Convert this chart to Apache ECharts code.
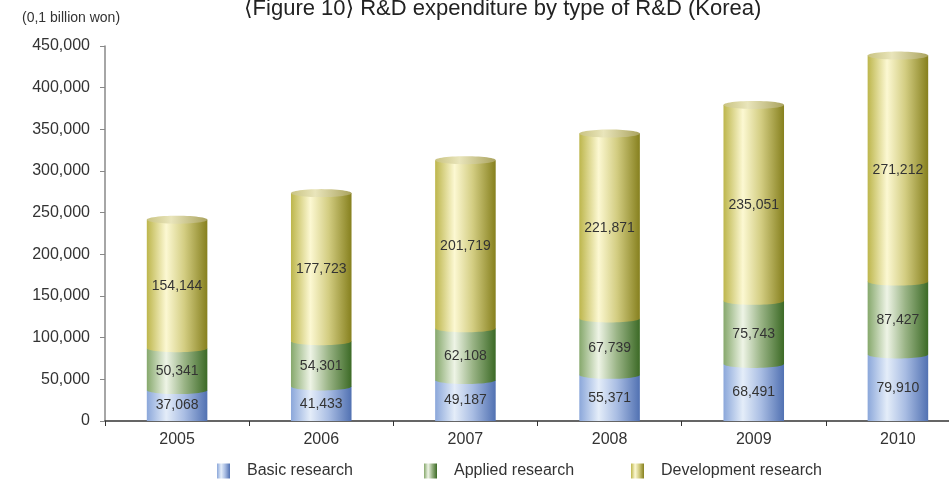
<!DOCTYPE html>
<html>
<head>
<meta charset="utf-8">
<script src="https://cdn.jsdelivr.net/npm/echarts@6/dist/echarts.min.js"></script>
<style>
  html, body { margin: 0; padding: 0; background: #fff; }
  #chart { width: 949px; height: 480px; }
</style>
</head>
<body>
<div id="chart"></div>
<script>
// R&D expenditure by type of research, Korea (unit: 0.1 billion won)
const years = ['2005', '2006', '2007', '2008', '2009', '2010'];
const basicResearch = [37068, 41433, 49187, 55371, 68491, 79910];
const appliedResearch = [50341, 54301, 62108, 67739, 75743, 87427];
const developmentResearch = [154144, 177723, 201719, 221871, 235051, 271212];
const seriesNames = ['Basic research', 'Applied research', 'Development research'];
const yAxisMax = 450000;
const yAxisStep = 50000;

const seriesValues = [basicResearch, appliedResearch, developmentResearch];

// Horizontal shading that gives each stack segment a cylindrical look
const shades = [
  [[0, '#8ba7da'], [0.32, '#e4edf9'], [0.62, '#a9bde3'], [1, '#5171b2']],
  [[0, '#86a86c'], [0.32, '#eef4e6'], [0.62, '#9ab486'], [1, '#3c6a26']],
  [[0, '#bdb64c'], [0.32, '#fcf8d2'], [0.62, '#d3cd82'], [1, '#86801e']]
];
const capShade = [[0, '#c9c381'], [0.4, '#e9e5bb'], [1, '#aaa35e']];
const grad = (stops) => new echarts.graphic.LinearGradient(0, 0, 1, 0,
  stops.map(s => ({ offset: s[0], color: s[1] })));

const fmt = v => Number(v).toLocaleString('en-US');

// Stack the three research types per year
const stackedData = seriesValues.map((vals, k) => vals.map((v, i) => {
  let base = 0;
  for (let j = 0; j < k; j++) base += seriesValues[j][i];
  return [i, base, base + v, v];
}));

const RY = 4;      // vertical radius of the elliptical edges
const SEGS = 28;

function makeRender(k) {
  const isTop = k === seriesValues.length - 1;
  return function (params, api) {
    const cat = api.value(0);
    const lo = api.value(1), hi = api.value(2);
    const pLo = api.coord([cat, lo]);
    const pHi = api.coord([cat, hi]);
    const cx = pLo[0];
    const half = api.size([1, 0])[0] * 0.42 / 2;
    const pts = [[cx - half, pHi[1]], [cx - half, pLo[1]]];
    if (lo > 0) {
      for (let t = 1; t < SEGS; t++) {
        const a = Math.PI - Math.PI * t / SEGS;
        pts.push([cx + Math.cos(a) * half, pLo[1] + Math.sin(a) * RY]);
      }
    }
    pts.push([cx + half, pLo[1]], [cx + half, pHi[1]]);
    const children = [{
      type: 'polygon',
      shape: { points: pts },
      style: { fill: grad(shades[k]) }
    }];
    if (isTop) {
      const cap = [];
      for (let t = 0; t < SEGS * 2; t++) {
        const a = Math.PI * 2 * t / (SEGS * 2);
        cap.push([cx + Math.cos(a) * half, pHi[1] + Math.sin(a) * RY]);
      }
      children.push({ type: 'polygon', shape: { points: cap }, style: { fill: grad(capShade) } });
    }
    children.push({
      type: 'text',
      style: {
        text: fmt(api.value(3)),
        x: cx,
        y: (pLo[1] + pHi[1]) / 2 + (lo > 0 ? RY / 2 : 0),
        align: 'center',
        verticalAlign: 'middle',
        fontFamily: '"Liberation Sans Narrow", "Liberation Sans", sans-serif',
        fontSize: 14,
        fill: '#333'
      }
    });
    return { type: 'group', children };
  };
}

const legendBase = {
  top: 463,
  padding: 0,
  itemWidth: 13,
  itemHeight: 15,
  icon: 'rect',
  textStyle: { fontFamily: '"Liberation Sans", sans-serif', fontSize: 16, color: '#333', padding: [0, 0, 0, 12] }
};

const chart = echarts.init(document.getElementById('chart'));
chart.setOption({
  animation: false,
  title: {
    text: '⟨Figure 10⟩ R&D expenditure by type of R&D (Korea)',
    left: 244,
    top: -2,
    padding: 0,
    textStyle: { fontFamily: '"Liberation Sans", "DejaVu Sans", sans-serif', fontSize: 22, fontWeight: 'normal', color: '#222' }
  },
  graphic: [{
    type: 'text',
    left: 22,
    top: 11,
    style: { text: '(0,1 billion won)', fontFamily: '"Liberation Sans", sans-serif', fontSize: 14, fill: '#333' }
  }],
  legend: seriesNames.map((n, k) => Object.assign({}, legendBase, { data: [n], left: [217, 424, 631][k] })),
  // the last year's band runs past the right edge of the canvas
  grid: { left: 105, right: -21, top: 46, bottom: 59, outerBoundsMode: 'none', containLabel: false },
  xAxis: {
    type: 'category',
    data: years,
    axisLine: { lineStyle: { color: '#333', width: 1.5 } },
    axisTick: { show: true, length: 5, lineStyle: { color: '#333' } },
    axisLabel: { margin: 11, fontFamily: '"Liberation Sans", sans-serif', fontSize: 16, color: '#333' }
  },
  yAxis: {
    type: 'value',
    min: 0,
    max: yAxisMax,
    interval: yAxisStep,
    splitLine: { show: false },
    axisLine: { show: true, lineStyle: { color: '#888', width: 1.5 } },
    axisTick: { show: true, length: 5, lineStyle: { color: '#888' } },
    axisLabel: { margin: 15, formatter: fmt, fontFamily: '"Liberation Sans", sans-serif', fontSize: 16, color: '#333' }
  },
  series: seriesNames.map((name, k) => ({
    name,
    type: 'custom',
    renderItem: makeRender(k),
    encode: { x: 0, y: [1, 2] },
    itemStyle: { color: grad(shades[k]) },
    data: stackedData[k],
    z: 2 + k
  }))
});
</script>
</body>
</html>
